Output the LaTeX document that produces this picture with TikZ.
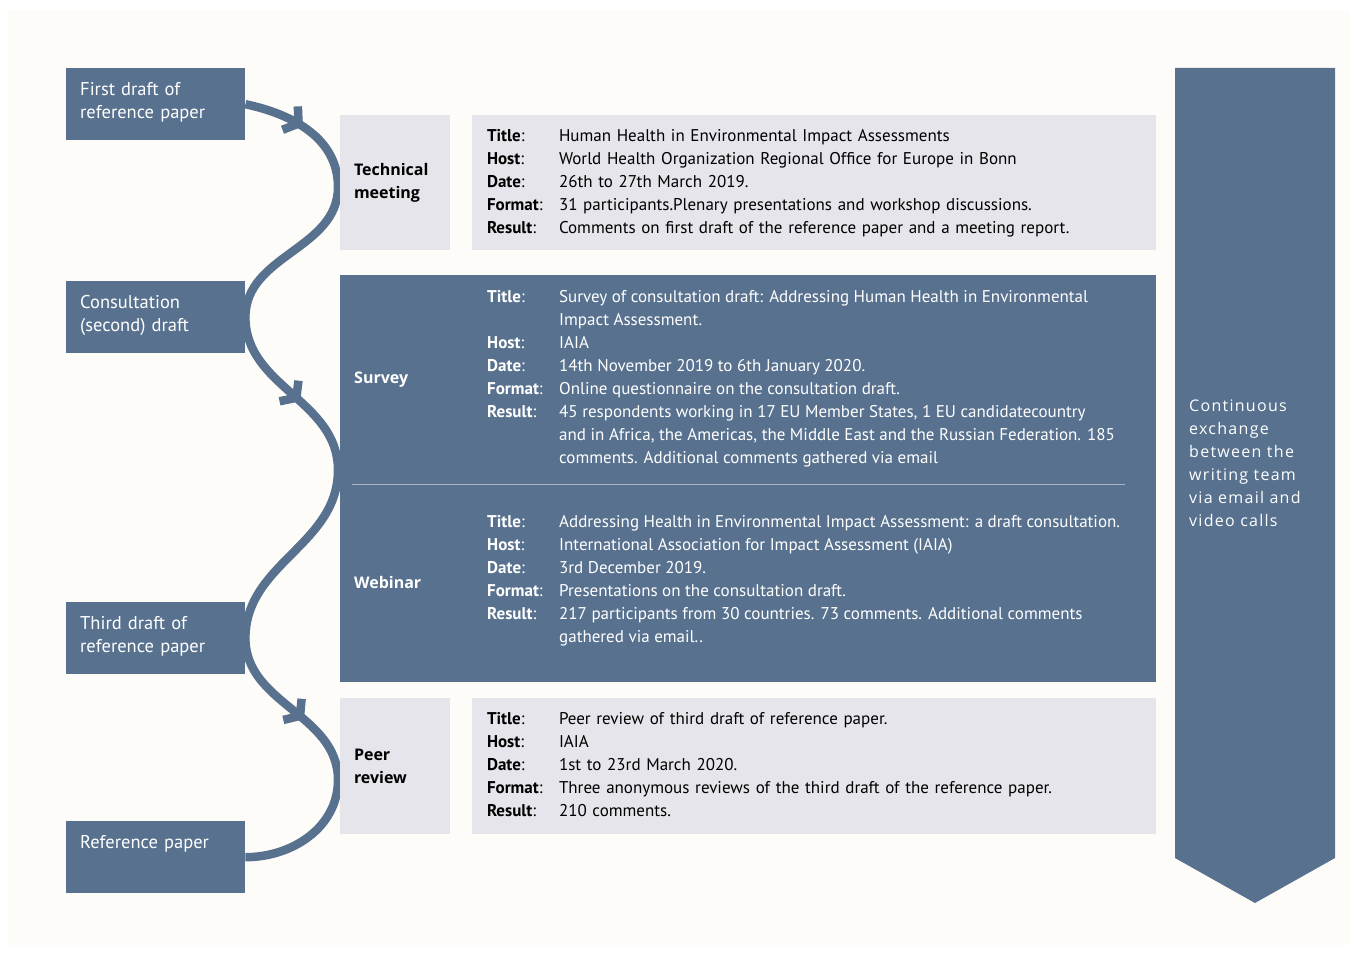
\documentclass[tikz,border=0pt]{standalone}
\usepackage{fontspec}
\setmainfont{PT Sans}
\newfontfamily\tagfont{Open Sans}
\newfontfamily\loopfont{Open Sans}[LetterSpace=8]
\usetikzlibrary{arrows.meta,decorations.markings,positioning,backgrounds}
\definecolor{steel}{HTML}{58718F}
\definecolor{mist}{HTML}{E5E5EB}
\definecolor{paper}{HTML}{FDFCF9}
\definecolor{rulecol}{HTML}{A7B6C9}
\newcommand{\fld}[1]{\textbf{#1}:}
\newcommand{\detailsize}{\fontsize{17}{23}\selectfont}

\begin{document}
\begin{tikzpicture}[
    x=1pt, y=1pt,
    draftbox/.style={fill=steel, text=white, anchor=north west,
        minimum width=179pt, minimum height=72pt, inner xsep=14pt, inner ysep=13pt,
        text width=151pt, align=left, text height=14pt, text depth=32pt,
        font=\fontsize{18.5}{23}\selectfont},
    tagbox/.style={inner xsep=14pt, text width=82pt, align=left,
        font=\tagfont\bfseries\fontsize{16}{23}\selectfont},
    infobox/.style={fill=mist, minimum width=684pt, text width=654pt,
        inner xsep=15pt, align=left, font=\detailsize},
    infotext/.style={text=white, inner xsep=15pt, anchor=west, align=left, font=\detailsize},
    flow/.style={draw=steel, line width=8.5pt, postaction={decorate},
        decoration={markings, mark=at position #1 with {\arrow[steel]{Straight Barb[length=10pt, width=28pt]}}}}]

% page
\useasboundingbox (0,0) rectangle (1357,954);
\begin{scope}[on background layer]
\fill[white] (0,0) rectangle (1357,954);
\fill[paper] (8,9) rectangle (1349,944);
\end{scope}

% turning points of the wave
\coordinate (c1) at (338,767);
\coordinate (c2) at (338,484);
\coordinate (c3) at (338,174);

% drafts
\node[draftbox] (first) at (66,886) {First draft of\\reference paper};
\node[draftbox] (consult) at (66,673) {Consultation\\(second) draft};
\node[draftbox] (third) at (66,352) {Third draft of\\reference paper};
\node[draftbox] (ref) at (66,133) {Reference paper};

\begin{scope}[on background layer]
\path[flow=62pt] (first.east) to[out=-12,in=90] (c1) to[out=-90,in=90] (consult.east);
\path[flow=104pt] (consult.east) to[out=-90,in=90] (c2) to[out=-90,in=90] (third.east);
\path[flow=104pt] (third.east) to[out=-90,in=90] (c3) to[out=-90,in=0] (ref.east);
\end{scope}

% technical meeting
\node[tagbox, fill=mist, minimum height=135pt] (tech) at (395,771.5) {Technical\\meeting};
\node[infobox, minimum height=135pt] (techinfo) at (814,771.5) {%
\begin{tabular}{@{}p{72pt}@{}l@{}}
\fld{Title} & Human Health in Environmental Impact Assessments\\
\fld{Host} & World Health Organization Regional Office for Europe in Bonn\\
\fld{Date} & 26th to 27th March 2019.\\
\fld{Format} & 31 participants.Plenary presentations and workshop discussions.\\
\fld{Result} & Comments on first draft of the reference paper and a meeting report.\\
\end{tabular}};

% survey and webinar
\node[fill=steel, minimum width=816pt, minimum height=407pt] (online) at (748,475.5) {};
\draw[rulecol, line width=1pt] (352,469) -- (1125,469);
\node[tagbox, text=white, anchor=west] (survey) at (340,574) {Survey};
\node[infotext] (surveyinfo) at (472,576) {%
\begin{tabular}{@{}p{72pt}@{}l@{}}
\fld{Title} & Survey of consultation draft: Addressing Human Health in Environmental\\
 & Impact Assessment.\\
\fld{Host} & IAIA\\
\fld{Date} & 14th November 2019 to 6th January 2020.\\
\fld{Format} & Online questionnaire on the consultation draft.\\
\fld{Result} & 45 respondents working in 17 EU Member States, 1 EU candidatecountry\\
 & and in Africa, the Americas, the Middle East and the Russian Federation. 185\\
 & comments. Additional comments gathered via email\\
\end{tabular}};
\node[tagbox, text=white, anchor=west] (webinar) at (340,371) {Webinar};
\node[infotext] (webinarinfo) at (472,374) {%
\begin{tabular}{@{}p{72pt}@{}l@{}}
\fld{Title} & Addressing Health in Environmental Impact Assessment: a draft consultation.\\
\fld{Host} & International Association for Impact Assessment (IAIA)\\
\fld{Date} & 3rd December 2019.\\
\fld{Format} & Presentations on the consultation draft.\\
\fld{Result} & 217 participants from 30 countries. 73 comments. Additional comments\\
 & gathered via email..\\
\end{tabular}};

% peer review
\node[tagbox, fill=mist, minimum height=136pt] (peer) at (395,188) {Peer\\review};
\node[infobox, minimum height=136pt] (peerinfo) at (814,188) {%
\begin{tabular}{@{}p{72pt}@{}l@{}}
\fld{Title} & Peer review of third draft of reference paper.\\
\fld{Host} & IAIA\\
\fld{Date} & 1st to 23rd March 2020.\\
\fld{Format} & Three anonymous reviews of the third draft of the reference paper.\\
\fld{Result} & 210 comments.\\
\end{tabular}};

% continuous exchange
\fill[steel] (1175,886) -- (1335,886) -- (1335,96) -- (1255,51) -- (1175,96) -- cycle;
\node[text=white, anchor=west, inner xsep=0pt, align=left,
      font=\loopfont\fontsize{16}{23}\selectfont] (loop) at (1189,491)
  {Continuous\\exchange\\between the\\writing team\\via email and\\video calls};
\end{tikzpicture}
\end{document}
